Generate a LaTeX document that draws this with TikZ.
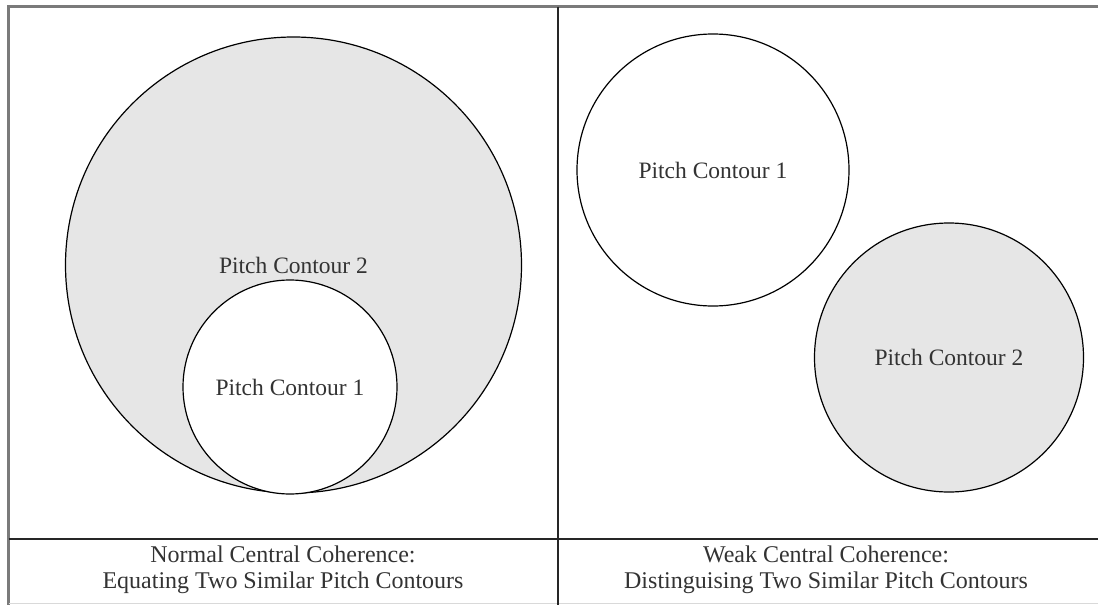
\documentclass[tikz,border=0pt]{standalone}
\usepackage{fontspec}
\setmainfont{Liberation Serif}
\definecolor{framegray}{HTML}{7A7A7A}
\definecolor{setgray}{HTML}{E6E6E6}
\definecolor{textgray}{HTML}{333333}
\begin{document}
\begin{tikzpicture}[x=1pt,y=-1pt,
    contour/.style={draw=black,line width=1.2pt,circle,inner sep=0pt,text=textgray,
        font=\fontsize{23.5}{28}\selectfont},
    caption/.style={align=center,text=textgray,font=\fontsize{24}{26}\selectfont}]
    \useasboundingbox (0,0) rectangle (1098,605);
    % frame
    \draw[framegray,line width=3pt] (8.5,605) -- (8.5,6.5) -- (1098,6.5);
    \draw[gray!30,line width=1pt] (8.5,603.5) -- (1098,603.5);
    \draw[black!85,line width=2pt] (558,6.5) -- (558,605);
    \draw[black!85,line width=2pt] (8.5,539) -- (1098,539);
    % normal central coherence
    \node[contour,fill=setgray,minimum size=456pt] (pcTwoL) at (293.5,265) {Pitch Contour 2};
    \node[contour,fill=white,minimum size=214pt] (pcOneL) at (290,387) {Pitch Contour 1};
    % weak central coherence
    \node[contour,fill=white,minimum size=272pt] (pcOneR) at (713,170) {Pitch Contour 1};
    \node[contour,fill=setgray,minimum size=269pt] (pcTwoR) at (949,357.5) {Pitch Contour 2};
    % captions
    \node[caption] (capL) at (283,570) {Normal Central Coherence:\\Equating Two Similar Pitch Contours};
    \node[caption] (capR) at (826,570) {Weak Central Coherence:\\Distinguising Two Similar Pitch Contours};
\end{tikzpicture}
\end{document}
